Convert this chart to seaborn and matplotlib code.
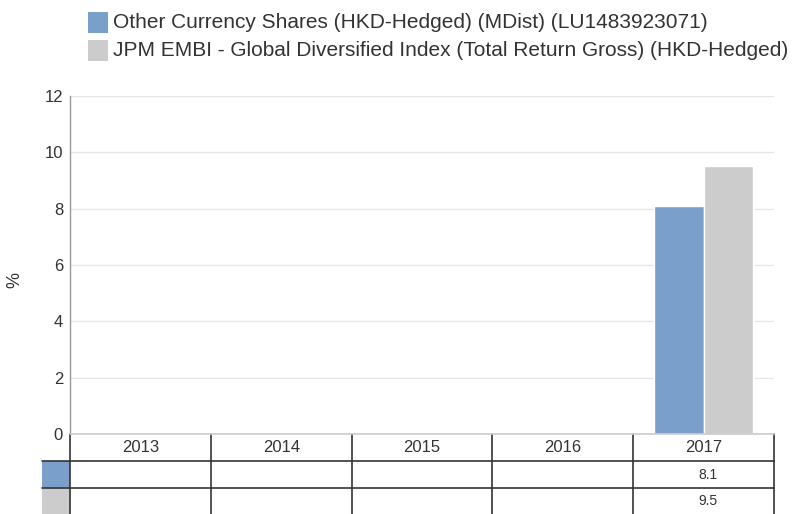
import numpy as np
import pandas as pd
import seaborn as sns
import matplotlib
matplotlib.use("Agg")
import matplotlib.pyplot as plt
from matplotlib.patches import Rectangle
from matplotlib.lines import Line2D

years = ["2013", "2014", "2015", "2016", "2017"]
fund_name = "Other Currency Shares (HKD-Hedged) (MDist) (LU1483923071)"
index_name = "JPM EMBI - Global Diversified Index (Total Return Gross) (HKD-Hedged)"
fund_values = [np.nan, np.nan, np.nan, np.nan, 8.1]
index_values = [np.nan, np.nan, np.nan, np.nan, 9.5]
y_ticks = [0, 2, 4, 6, 8, 10, 12]
y_label = "%"

colors = ["#7a9fca", "#cccccc"]

df = pd.DataFrame({
    "year": years * 2,
    "series": [fund_name] * len(years) + [index_name] * len(years),
    "value": fund_values + index_values,
})

sns.set_theme(style="white")
plt.rcParams["font.family"] = ["Liberation Sans", "DejaVu Sans"]

W, H = 797, 514
fig = plt.figure(figsize=(W / 100, H / 100), dpi=100)

# main plot area in pixels: x 70..774, y 96..434
L, R, T, B = 70, 774, 96, 434
ax = fig.add_axes([L / W, 1 - B / H, (R - L) / W, (B - T) / H])
sns.barplot(data=df, x="year", y="value", hue="series", order=years,
            hue_order=[fund_name, index_name], palette=colors, width=0.7,
            edgecolor="white", linewidth=1, saturation=1, ax=ax, legend=False)
ax.set_ylim(0, 12)
ax.set_xlim(-0.5, len(years) - 0.5)
ax.set_yticks(y_ticks)
ax.set_yticklabels([str(t) for t in y_ticks], fontsize=12, color="#333333")
ax.set_xticks([])
ax.set_xlabel("")
ax.set_ylabel("")
ax.grid(axis="y", color="#e6e6e6", linewidth=1)
ax.set_axisbelow(True)
for s in ["top", "right", "bottom"]:
    ax.spines[s].set_visible(False)
ax.spines["left"].set_color("#999999")
ax.spines["left"].set_linewidth(1)
ax.tick_params(axis="y", length=0, pad=5)

# overlay axes in pixel coords
ov = fig.add_axes([0, 0, 1, 1], zorder=5)
ov.set_xlim(0, W)
ov.set_ylim(H, 0)
ov.axis("off")
ov.patch.set_alpha(0)

ov.text(15, 280, y_label, rotation=90, ha="center", va="center", fontsize=13, color="#333333")

# legend
for i, (name, c) in enumerate(zip([fund_name, index_name], colors)):
    y0 = 12 + i * 28
    ov.add_patch(Rectangle((88, y0), 20, 21, facecolor=c, edgecolor="none"))
    ov.text(113, y0 + 11, name, ha="left", va="center", fontsize=15, color="#333333")

# table
col_edges = [L + (R - L) * k / len(years) for k in range(len(years) + 1)]
line_c = "#333333"
for x in col_edges:
    ov.add_line(Line2D([x, x], [434, 514], color=line_c, linewidth=1.2))
ov.add_line(Line2D([42, R], [461, 461], color=line_c, linewidth=1.2))
ov.add_line(Line2D([42, R], [488, 488], color=line_c, linewidth=1.2))
ov.add_line(Line2D([L, R], [434, 434], color="#cccccc", linewidth=1.2))
ov.add_patch(Rectangle((42, 461), L - 42, 27, facecolor=colors[0], edgecolor="none"))
ov.add_patch(Rectangle((42, 488), L - 42, 26, facecolor=colors[1], edgecolor="none"))
for k, yr in enumerate(years):
    cx = (col_edges[k] + col_edges[k + 1]) / 2
    ov.text(cx, 448, yr, ha="center", va="center", fontsize=12, color="#333333")
    for vals, yc in [(fund_values, 475), (index_values, 501)]:
        v = vals[k]
        if not np.isnan(v):
            ov.text(col_edges[k + 1] - 56, yc, f"{v:.1f}", ha="right", va="center",
                    fontsize=10, color="#333333")

fig.savefig("out.png", dpi=100)
